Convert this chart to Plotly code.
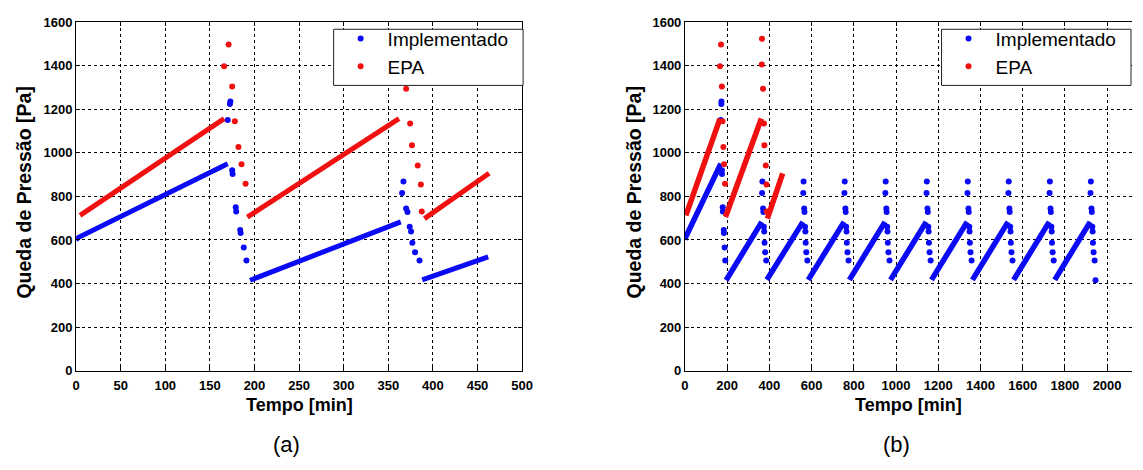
import plotly.graph_objects as go

W, H = 1143, 470

# ---------------- data ----------------
# (a) Implementado: continuous ramps (None separates segments)
a_blue_ramp_t = [0, 3, 170, None, 195, 280, 364, None, 388, 462]
a_blue_ramp_v = [600, 612, 950, None, 415, 548, 683, None, 417, 522]
# (a) Implementado: scattered points during the cleaning pulses
a_blue_spk_t = [170, 172.5, 173, 175, 175.5, 179, 179.5, 184, 184.5, 188, 191,
                365.5, 367, 370, 371.5, 374, 375.5, 377, 380, 385]
a_blue_spk_v = [1150, 1224, 1235, 920, 903, 750, 730, 646, 632, 565, 506,
                816, 868, 744, 728, 661, 639, 587, 543, 506]

# EPA (same in both panels)
red_ramp_t = [4.5, 166, None, 192, 362, None, 390.5, 463]
red_ramp_v = [713, 1157, None, 705, 1157, None, 698, 906]
red_spk_t = [166, 171, 175, 178, 182, 185.5, 190,
             364, 365, 370, 374.5, 376.5, 383, 386.5, 387.5]
red_spk_v = [1397, 1497, 1304, 1145, 1027, 947, 858,
             1405, 1523, 1294, 1134, 1034, 942, 854, 731]

# (b) Implementado: ramps
b_blue_ramp_t = [0, 3, 170, None, 195, 280, 364, None, 388, 559, None,
                 584, 754, None, 779, 948, None, 974, 1143, None,
                 1168, 1337, None, 1362, 1531, None, 1557, 1726, None,
                 1752, 1920]
b_blue_ramp_v = [600, 612, 950, None, 415, 548, 683, None, 417, 683, None,
                 417, 683, None, 417, 683, None, 417, 683, None,
                 417, 683, None, 417, 683, None, 417, 683, None,
                 417, 683]
# (b) Implementado: pulse points
b_blue_spk_t = [170, 172.5, 173, 175, 175.5, 179, 179.5, 184, 184.5, 188, 191,
                365.5, 367, 370, 371.5, 374, 375.5, 377, 380, 385,
                560.5, 562, 565, 566.5, 569, 570.5, 572, 575, 580,
                755.5, 757, 760, 761.5, 764, 765.5, 767, 770, 775,
                949.5, 951, 954, 955.5, 958, 959.5, 961, 964, 969,
                1144.5, 1146, 1149, 1150.5, 1153, 1154.5, 1156, 1159, 1164,
                1338.5, 1340, 1343, 1344.5, 1347, 1348.5, 1350, 1353, 1358,
                1532.5, 1534, 1537, 1538.5, 1541, 1542.5, 1544, 1547, 1552,
                1727.5, 1729, 1732, 1733.5, 1736, 1737.5, 1739, 1742, 1747,
                1921.5, 1923, 1926, 1927.5, 1930, 1931.5, 1933, 1936, 1941,
                1945]
b_blue_spk_v = [1150, 1224, 1235, 920, 903, 750, 730, 646, 632, 565, 506,
                816, 868, 744, 728, 661, 639, 587, 543, 506,
                816, 868, 744, 728, 661, 639, 587, 543, 506,
                816, 868, 744, 728, 661, 639, 587, 543, 506,
                816, 868, 744, 728, 661, 639, 587, 543, 506,
                816, 868, 744, 728, 661, 639, 587, 543, 506,
                816, 868, 744, 728, 661, 639, 587, 543, 506,
                816, 868, 744, 728, 661, 639, 587, 543, 506,
                816, 868, 744, 728, 661, 639, 587, 543, 506,
                816, 868, 744, 728, 661, 639, 587, 543, 506,
                415]

names = ["Implementado", "EPA"]
x_title = "Tempo [min]"
y_title = "Queda de Pressão [Pa]"
panel_labels = ["(a)", "(b)"]

BLUE = "#0a0af5"
RED = "#f01010"

fig = go.Figure()

def add_series(xa, ya, leg, ramp_t, ramp_v, spk_t, spk_v, color, name, lw, ms):
    fig.add_trace(go.Scatter(x=ramp_t, y=ramp_v, mode="lines", xaxis=xa, yaxis=ya,
                             line=dict(color=color, width=lw), showlegend=False,
                             hoverinfo="skip", connectgaps=False))
    fig.add_trace(go.Scatter(x=spk_t, y=spk_v, mode="markers", xaxis=xa, yaxis=ya,
                             marker=dict(color=color, size=ms), name=name,
                             legend=leg, showlegend=True))

add_series("x", "y", "legend", a_blue_ramp_t, a_blue_ramp_v, a_blue_spk_t, a_blue_spk_v, BLUE, names[0], 5, 6)
add_series("x", "y", "legend", red_ramp_t, red_ramp_v, red_spk_t, red_spk_v, RED, names[1], 5, 6)
add_series("x2", "y2", "legend2", b_blue_ramp_t, b_blue_ramp_v, b_blue_spk_t, b_blue_spk_v, BLUE, names[0], 5.5, 6)
add_series("x2", "y2", "legend2", red_ramp_t, red_ramp_v, red_spk_t, red_spk_v, RED, names[1], 5.5, 6)

tickfont = dict(family="Liberation Sans", size=13, color="black", weight="bold")
common = dict(showline=True, linecolor="black", linewidth=1, showgrid=True,
              gridcolor="black", griddash="3px,3px", gridwidth=1,
              ticks="inside", ticklen=4, tickcolor="black", tickfont=tickfont,
              zeroline=False, fixedrange=True)

ydom = [(H - 375.7) / H, (H - 15.5) / H]
legfont = dict(family="Liberation Sans", size=19, color="black")
fig.update_layout(
    width=W, height=H, margin=dict(l=0, r=0, t=0, b=0),
    paper_bgcolor="white", plot_bgcolor="white",
    xaxis=dict(domain=[73 / W, 525 / W], range=[0, 500], dtick=50, anchor="y",
               mirror="ticks", ticklabelstandoff=3, **common),
    yaxis=dict(domain=ydom, range=[0, 1600], dtick=200, anchor="x", mirror="ticks", **common),
    xaxis2=dict(domain=[690 / W, 1.0], range=[0, 2118], dtick=200, anchor="y2",
                mirror="ticks", ticklabelstandoff=3, **common),
    yaxis2=dict(domain=ydom, range=[0, 1600], dtick=200, anchor="x2", mirror=False, **common),
    legend=dict(x=334 / W, y=(H - 13) / H, xanchor="left", yanchor="top",
                bgcolor="rgba(0,0,0,0)", borderwidth=0, itemwidth=44, font=legfont),
    legend2=dict(x=950 / W, y=(H - 13) / H, xanchor="left", yanchor="top",
                 bgcolor="rgba(0,0,0,0)", borderwidth=0, itemwidth=44, font=legfont),
)

# legend frames (white boxes with a dark border, drawn over the data)
shapes = []
for x0, x1 in [(334, 526), (950, 1142)]:
    shapes.append(dict(type="rect", xref="paper", yref="paper",
                       x0=x0 / W, x1=x1 / W, y0=(H - 81) / H, y1=(H - 23) / H,
                       fillcolor="white", line=dict(color="#222", width=1), layer="above"))
fig.update_layout(shapes=shapes)

xt_font = dict(family="Liberation Sans", size=18, color="black", weight="bold")
yt_font = dict(family="Liberation Sans", size=19.5, color="black", weight="bold")
ann = []
for cx in [(73 + 525) / 2, (690 + 1143) / 2]:
    ann.append(dict(text=x_title, x=cx / W, y=(H - 411) / H, xref="paper", yref="paper",
                    xanchor="center", yanchor="middle", showarrow=False, font=xt_font))
for cx in [20, 638]:
    ann.append(dict(text=y_title, x=cx / W, y=(H - 192) / H, xref="paper", yref="paper",
                    xanchor="center", yanchor="middle", showarrow=False, textangle=-90, font=yt_font))
for lab, cx in zip(panel_labels, [286, 904]):
    ann.append(dict(text=lab, x=cx / W, y=(H - 452) / H, xref="paper", yref="paper",
                    xanchor="center", yanchor="middle", showarrow=False,
                    font=dict(family="Liberation Sans", size=22, color="black")))
fig.update_layout(annotations=ann)

fig.write_html("out.html")
